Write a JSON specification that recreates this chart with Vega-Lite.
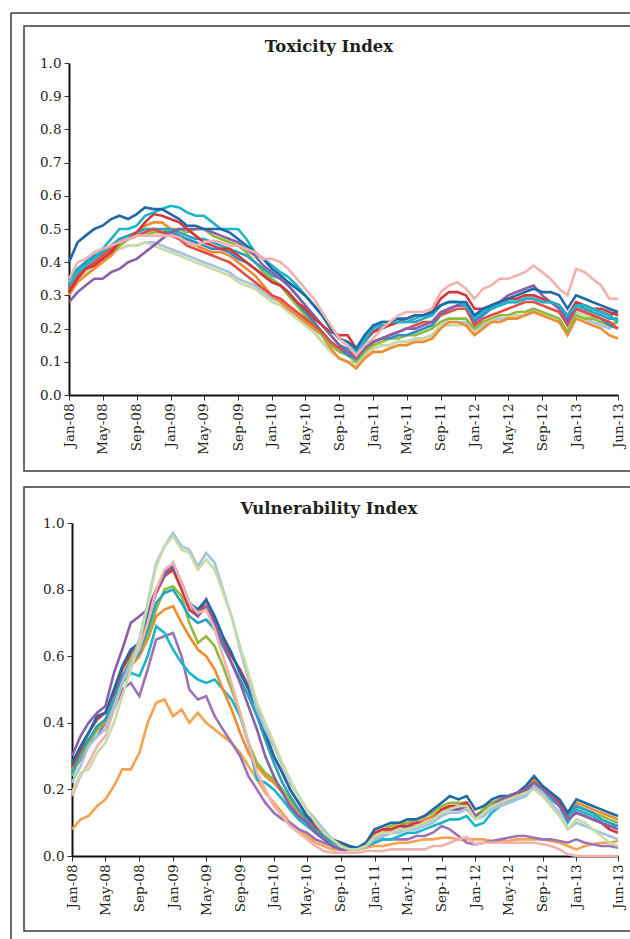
{
"$schema":"https://vega.github.io/schema/vega-lite/v6.json",
"padding":{"left":9,"top":11,"right":0,"bottom":0},
"bounds":"flush",
"spacing":16,
"config":{
"view":{"stroke":"#3a3a3a","strokeWidth":1.5},
"font":"DejaVu Serif",
"axis":{"labelFont":"DejaVu Serif","labelFontSize":13.5,"labelColor":"#231f20","domainColor":"#111111","domainWidth":2,"tickColor":"#333333","tickSize":5,"tickWidth":1,"grid":false,"labelPadding":3,"labelFlush":false,"labelOverlap":false}
},
"datasets":{
"tox":[
{"s":"k","d":"2008-01","v":0.34},{"s":"k","d":"2008-02","v":0.37},{"s":"k","d":"2008-03","v":0.38},{"s":"k","d":"2008-04","v":0.40},{"s":"k","d":"2008-05","v":0.41},{"s":"k","d":"2008-06","v":0.43},{"s":"k","d":"2008-07","v":0.44},{"s":"k","d":"2008-08","v":0.45},{"s":"k","d":"2008-09","v":0.45},{"s":"k","d":"2008-10","v":0.46},{"s":"k","d":"2008-11","v":0.46},{"s":"k","d":"2008-12","v":0.45},
{"s":"k","d":"2009-01","v":0.44},{"s":"k","d":"2009-02","v":0.43},{"s":"k","d":"2009-03","v":0.42},{"s":"k","d":"2009-04","v":0.41},{"s":"k","d":"2009-05","v":0.40},{"s":"k","d":"2009-06","v":0.39},{"s":"k","d":"2009-07","v":0.38},{"s":"k","d":"2009-08","v":0.37},{"s":"k","d":"2009-09","v":0.35},{"s":"k","d":"2009-10","v":0.34},{"s":"k","d":"2009-11","v":0.33},{"s":"k","d":"2009-12","v":0.31},
{"s":"k","d":"2010-01","v":0.29},{"s":"k","d":"2010-02","v":0.28},{"s":"k","d":"2010-03","v":0.26},{"s":"k","d":"2010-04","v":0.24},{"s":"k","d":"2010-05","v":0.21},{"s":"k","d":"2010-06","v":0.19},{"s":"k","d":"2010-07","v":0.16},{"s":"k","d":"2010-08","v":0.13},{"s":"k","d":"2010-09","v":0.11},{"s":"k","d":"2010-10","v":0.10},{"s":"k","d":"2010-11","v":0.10},{"s":"k","d":"2010-12","v":0.12},
{"s":"k","d":"2011-01","v":0.14},{"s":"k","d":"2011-02","v":0.15},{"s":"k","d":"2011-03","v":0.15},{"s":"k","d":"2011-04","v":0.16},{"s":"k","d":"2011-05","v":0.16},{"s":"k","d":"2011-06","v":0.17},{"s":"k","d":"2011-07","v":0.17},{"s":"k","d":"2011-08","v":0.18},{"s":"k","d":"2011-09","v":0.21},{"s":"k","d":"2011-10","v":0.22},{"s":"k","d":"2011-11","v":0.22},{"s":"k","d":"2011-12","v":0.22},
{"s":"k","d":"2012-01","v":0.19},{"s":"k","d":"2012-02","v":0.21},{"s":"k","d":"2012-03","v":0.22},{"s":"k","d":"2012-04","v":0.23},{"s":"k","d":"2012-05","v":0.23},{"s":"k","d":"2012-06","v":0.24},{"s":"k","d":"2012-07","v":0.24},{"s":"k","d":"2012-08","v":0.25},{"s":"k","d":"2012-09","v":0.24},{"s":"k","d":"2012-10","v":0.23},{"s":"k","d":"2012-11","v":0.22},{"s":"k","d":"2012-12","v":0.19},
{"s":"k","d":"2013-01","v":0.24},{"s":"k","d":"2013-02","v":0.23},{"s":"k","d":"2013-03","v":0.22},{"s":"k","d":"2013-04","v":0.21},{"s":"k","d":"2013-05","v":0.20},{"s":"k","d":"2013-06","v":0.23},
{"s":"l","d":"2008-01","v":0.32},{"s":"l","d":"2008-02","v":0.35},{"s":"l","d":"2008-03","v":0.37},{"s":"l","d":"2008-04","v":0.39},{"s":"l","d":"2008-05","v":0.41},{"s":"l","d":"2008-06","v":0.43},{"s":"l","d":"2008-07","v":0.44},{"s":"l","d":"2008-08","v":0.45},{"s":"l","d":"2008-09","v":0.45},{"s":"l","d":"2008-10","v":0.46},{"s":"l","d":"2008-11","v":0.45},{"s":"l","d":"2008-12","v":0.44},
{"s":"l","d":"2009-01","v":0.43},{"s":"l","d":"2009-02","v":0.42},{"s":"l","d":"2009-03","v":0.41},{"s":"l","d":"2009-04","v":0.40},{"s":"l","d":"2009-05","v":0.39},{"s":"l","d":"2009-06","v":0.38},{"s":"l","d":"2009-07","v":0.37},{"s":"l","d":"2009-08","v":0.36},{"s":"l","d":"2009-09","v":0.34},{"s":"l","d":"2009-10","v":0.33},{"s":"l","d":"2009-11","v":0.32},{"s":"l","d":"2009-12","v":0.30},
{"s":"l","d":"2010-01","v":0.28},{"s":"l","d":"2010-02","v":0.27},{"s":"l","d":"2010-03","v":0.25},{"s":"l","d":"2010-04","v":0.23},{"s":"l","d":"2010-05","v":0.21},{"s":"l","d":"2010-06","v":0.19},{"s":"l","d":"2010-07","v":0.16},{"s":"l","d":"2010-08","v":0.13},{"s":"l","d":"2010-09","v":0.11},{"s":"l","d":"2010-10","v":0.10},{"s":"l","d":"2010-11","v":0.09},{"s":"l","d":"2010-12","v":0.12},
{"s":"l","d":"2011-01","v":0.14},{"s":"l","d":"2011-02","v":0.15},{"s":"l","d":"2011-03","v":0.15},{"s":"l","d":"2011-04","v":0.16},{"s":"l","d":"2011-05","v":0.16},{"s":"l","d":"2011-06","v":0.17},{"s":"l","d":"2011-07","v":0.17},{"s":"l","d":"2011-08","v":0.18},{"s":"l","d":"2011-09","v":0.21},{"s":"l","d":"2011-10","v":0.21},{"s":"l","d":"2011-11","v":0.21},{"s":"l","d":"2011-12","v":0.21},
{"s":"l","d":"2012-01","v":0.19},{"s":"l","d":"2012-02","v":0.20},{"s":"l","d":"2012-03","v":0.22},{"s":"l","d":"2012-04","v":0.22},{"s":"l","d":"2012-05","v":0.23},{"s":"l","d":"2012-06","v":0.24},{"s":"l","d":"2012-07","v":0.24},{"s":"l","d":"2012-08","v":0.25},{"s":"l","d":"2012-09","v":0.24},{"s":"l","d":"2012-10","v":0.23},{"s":"l","d":"2012-11","v":0.22},{"s":"l","d":"2012-12","v":0.19},
{"s":"l","d":"2013-01","v":0.25},{"s":"l","d":"2013-02","v":0.24},{"s":"l","d":"2013-03","v":0.23},{"s":"l","d":"2013-04","v":0.22},{"s":"l","d":"2013-05","v":0.21},{"s":"l","d":"2013-06","v":0.23},
{"s":"g","d":"2008-01","v":0.30},{"s":"g","d":"2008-02","v":0.34},{"s":"g","d":"2008-03","v":0.36},{"s":"g","d":"2008-04","v":0.38},{"s":"g","d":"2008-05","v":0.40},{"s":"g","d":"2008-06","v":0.42},{"s":"g","d":"2008-07","v":0.45},{"s":"g","d":"2008-08","v":0.47},{"s":"g","d":"2008-09","v":0.49},{"s":"g","d":"2008-10","v":0.51},{"s":"g","d":"2008-11","v":0.52},{"s":"g","d":"2008-12","v":0.52},
{"s":"g","d":"2009-01","v":0.50},{"s":"g","d":"2009-02","v":0.48},{"s":"g","d":"2009-03","v":0.46},{"s":"g","d":"2009-04","v":0.45},{"s":"g","d":"2009-05","v":0.44},{"s":"g","d":"2009-06","v":0.43},{"s":"g","d":"2009-07","v":0.43},{"s":"g","d":"2009-08","v":0.42},{"s":"g","d":"2009-09","v":0.40},{"s":"g","d":"2009-10","v":0.38},{"s":"g","d":"2009-11","v":0.36},{"s":"g","d":"2009-12","v":0.33},
{"s":"g","d":"2010-01","v":0.30},{"s":"g","d":"2010-02","v":0.28},{"s":"g","d":"2010-03","v":0.26},{"s":"g","d":"2010-04","v":0.24},{"s":"g","d":"2010-05","v":0.22},{"s":"g","d":"2010-06","v":0.20},{"s":"g","d":"2010-07","v":0.18},{"s":"g","d":"2010-08","v":0.14},{"s":"g","d":"2010-09","v":0.11},{"s":"g","d":"2010-10","v":0.10},{"s":"g","d":"2010-11","v":0.08},{"s":"g","d":"2010-12","v":0.11},
{"s":"g","d":"2011-01","v":0.13},{"s":"g","d":"2011-02","v":0.13},{"s":"g","d":"2011-03","v":0.14},{"s":"g","d":"2011-04","v":0.15},{"s":"g","d":"2011-05","v":0.15},{"s":"g","d":"2011-06","v":0.16},{"s":"g","d":"2011-07","v":0.16},{"s":"g","d":"2011-08","v":0.17},{"s":"g","d":"2011-09","v":0.20},{"s":"g","d":"2011-10","v":0.22},{"s":"g","d":"2011-11","v":0.22},{"s":"g","d":"2011-12","v":0.21},
{"s":"g","d":"2012-01","v":0.18},{"s":"g","d":"2012-02","v":0.20},{"s":"g","d":"2012-03","v":0.22},{"s":"g","d":"2012-04","v":0.22},{"s":"g","d":"2012-05","v":0.23},{"s":"g","d":"2012-06","v":0.23},{"s":"g","d":"2012-07","v":0.24},{"s":"g","d":"2012-08","v":0.25},{"s":"g","d":"2012-09","v":0.24},{"s":"g","d":"2012-10","v":0.23},{"s":"g","d":"2012-11","v":0.22},{"s":"g","d":"2012-12","v":0.18},
{"s":"g","d":"2013-01","v":0.23},{"s":"g","d":"2013-02","v":0.22},{"s":"g","d":"2013-03","v":0.21},{"s":"g","d":"2013-04","v":0.20},{"s":"g","d":"2013-05","v":0.18},{"s":"g","d":"2013-06","v":0.17},
{"s":"i","d":"2008-01","v":0.33},{"s":"i","d":"2008-02","v":0.36},{"s":"i","d":"2008-03","v":0.38},{"s":"i","d":"2008-04","v":0.40},{"s":"i","d":"2008-05","v":0.41},{"s":"i","d":"2008-06","v":0.43},{"s":"i","d":"2008-07","v":0.45},{"s":"i","d":"2008-08","v":0.47},{"s":"i","d":"2008-09","v":0.48},{"s":"i","d":"2008-10","v":0.48},{"s":"i","d":"2008-11","v":0.49},{"s":"i","d":"2008-12","v":0.49},
{"s":"i","d":"2009-01","v":0.50},{"s":"i","d":"2009-02","v":0.50},{"s":"i","d":"2009-03","v":0.49},{"s":"i","d":"2009-04","v":0.50},{"s":"i","d":"2009-05","v":0.50},{"s":"i","d":"2009-06","v":0.48},{"s":"i","d":"2009-07","v":0.47},{"s":"i","d":"2009-08","v":0.46},{"s":"i","d":"2009-09","v":0.45},{"s":"i","d":"2009-10","v":0.43},{"s":"i","d":"2009-11","v":0.40},{"s":"i","d":"2009-12","v":0.37},
{"s":"i","d":"2010-01","v":0.35},{"s":"i","d":"2010-02","v":0.33},{"s":"i","d":"2010-03","v":0.30},{"s":"i","d":"2010-04","v":0.27},{"s":"i","d":"2010-05","v":0.24},{"s":"i","d":"2010-06","v":0.21},{"s":"i","d":"2010-07","v":0.18},{"s":"i","d":"2010-08","v":0.15},{"s":"i","d":"2010-09","v":0.13},{"s":"i","d":"2010-10","v":0.12},{"s":"i","d":"2010-11","v":0.10},{"s":"i","d":"2010-12","v":0.13},
{"s":"i","d":"2011-01","v":0.15},{"s":"i","d":"2011-02","v":0.16},{"s":"i","d":"2011-03","v":0.17},{"s":"i","d":"2011-04","v":0.17},{"s":"i","d":"2011-05","v":0.18},{"s":"i","d":"2011-06","v":0.18},{"s":"i","d":"2011-07","v":0.19},{"s":"i","d":"2011-08","v":0.20},{"s":"i","d":"2011-09","v":0.22},{"s":"i","d":"2011-10","v":0.23},{"s":"i","d":"2011-11","v":0.23},{"s":"i","d":"2011-12","v":0.23},
{"s":"i","d":"2012-01","v":0.20},{"s":"i","d":"2012-02","v":0.22},{"s":"i","d":"2012-03","v":0.23},{"s":"i","d":"2012-04","v":0.24},{"s":"i","d":"2012-05","v":0.24},{"s":"i","d":"2012-06","v":0.25},{"s":"i","d":"2012-07","v":0.25},{"s":"i","d":"2012-08","v":0.26},{"s":"i","d":"2012-09","v":0.25},{"s":"i","d":"2012-10","v":0.24},{"s":"i","d":"2012-11","v":0.23},{"s":"i","d":"2012-12","v":0.19},
{"s":"i","d":"2013-01","v":0.24},{"s":"i","d":"2013-02","v":0.23},{"s":"i","d":"2013-03","v":0.23},{"s":"i","d":"2013-04","v":0.22},{"s":"i","d":"2013-05","v":0.21},{"s":"i","d":"2013-06","v":0.22},
{"s":"b","d":"2008-01","v":0.35},{"s":"b","d":"2008-02","v":0.38},{"s":"b","d":"2008-03","v":0.40},{"s":"b","d":"2008-04","v":0.42},{"s":"b","d":"2008-05","v":0.43},{"s":"b","d":"2008-06","v":0.45},{"s":"b","d":"2008-07","v":0.46},{"s":"b","d":"2008-08","v":0.47},{"s":"b","d":"2008-09","v":0.48},{"s":"b","d":"2008-10","v":0.49},{"s":"b","d":"2008-11","v":0.50},{"s":"b","d":"2008-12","v":0.49},
{"s":"b","d":"2009-01","v":0.49},{"s":"b","d":"2009-02","v":0.48},{"s":"b","d":"2009-03","v":0.47},{"s":"b","d":"2009-04","v":0.46},{"s":"b","d":"2009-05","v":0.45},{"s":"b","d":"2009-06","v":0.44},{"s":"b","d":"2009-07","v":0.44},{"s":"b","d":"2009-08","v":0.43},{"s":"b","d":"2009-09","v":0.41},{"s":"b","d":"2009-10","v":0.40},{"s":"b","d":"2009-11","v":0.38},{"s":"b","d":"2009-12","v":0.36},
{"s":"b","d":"2010-01","v":0.34},{"s":"b","d":"2010-02","v":0.33},{"s":"b","d":"2010-03","v":0.31},{"s":"b","d":"2010-04","v":0.28},{"s":"b","d":"2010-05","v":0.25},{"s":"b","d":"2010-06","v":0.22},{"s":"b","d":"2010-07","v":0.19},{"s":"b","d":"2010-08","v":0.16},{"s":"b","d":"2010-09","v":0.14},{"s":"b","d":"2010-10","v":0.12},{"s":"b","d":"2010-11","v":0.11},{"s":"b","d":"2010-12","v":0.14},
{"s":"b","d":"2011-01","v":0.16},{"s":"b","d":"2011-02","v":0.17},{"s":"b","d":"2011-03","v":0.17},{"s":"b","d":"2011-04","v":0.18},{"s":"b","d":"2011-05","v":0.18},{"s":"b","d":"2011-06","v":0.19},{"s":"b","d":"2011-07","v":0.20},{"s":"b","d":"2011-08","v":0.21},{"s":"b","d":"2011-09","v":0.24},{"s":"b","d":"2011-10","v":0.26},{"s":"b","d":"2011-11","v":0.27},{"s":"b","d":"2011-12","v":0.27},
{"s":"b","d":"2012-01","v":0.22},{"s":"b","d":"2012-02","v":0.24},{"s":"b","d":"2012-03","v":0.26},{"s":"b","d":"2012-04","v":0.27},{"s":"b","d":"2012-05","v":0.28},{"s":"b","d":"2012-06","v":0.28},{"s":"b","d":"2012-07","v":0.29},{"s":"b","d":"2012-08","v":0.29},{"s":"b","d":"2012-09","v":0.28},{"s":"b","d":"2012-10","v":0.28},{"s":"b","d":"2012-11","v":0.27},{"s":"b","d":"2012-12","v":0.23},
{"s":"b","d":"2013-01","v":0.26},{"s":"b","d":"2013-02","v":0.25},{"s":"b","d":"2013-03","v":0.24},{"s":"b","d":"2013-04","v":0.23},{"s":"b","d":"2013-05","v":0.21},{"s":"b","d":"2013-06","v":0.20},
{"s":"d","d":"2008-01","v":0.35},{"s":"d","d":"2008-02","v":0.38},{"s":"d","d":"2008-03","v":0.40},{"s":"d","d":"2008-04","v":0.41},{"s":"d","d":"2008-05","v":0.43},{"s":"d","d":"2008-06","v":0.45},{"s":"d","d":"2008-07","v":0.47},{"s":"d","d":"2008-08","v":0.48},{"s":"d","d":"2008-09","v":0.49},{"s":"d","d":"2008-10","v":0.50},{"s":"d","d":"2008-11","v":0.50},{"s":"d","d":"2008-12","v":0.50},
{"s":"d","d":"2009-01","v":0.50},{"s":"d","d":"2009-02","v":0.49},{"s":"d","d":"2009-03","v":0.48},{"s":"d","d":"2009-04","v":0.47},{"s":"d","d":"2009-05","v":0.47},{"s":"d","d":"2009-06","v":0.46},{"s":"d","d":"2009-07","v":0.45},{"s":"d","d":"2009-08","v":0.44},{"s":"d","d":"2009-09","v":0.43},{"s":"d","d":"2009-10","v":0.42},{"s":"d","d":"2009-11","v":0.40},{"s":"d","d":"2009-12","v":0.38},
{"s":"d","d":"2010-01","v":0.36},{"s":"d","d":"2010-02","v":0.35},{"s":"d","d":"2010-03","v":0.33},{"s":"d","d":"2010-04","v":0.30},{"s":"d","d":"2010-05","v":0.27},{"s":"d","d":"2010-06","v":0.24},{"s":"d","d":"2010-07","v":0.21},{"s":"d","d":"2010-08","v":0.18},{"s":"d","d":"2010-09","v":0.15},{"s":"d","d":"2010-10","v":0.14},{"s":"d","d":"2010-11","v":0.12},{"s":"d","d":"2010-12","v":0.16},
{"s":"d","d":"2011-01","v":0.19},{"s":"d","d":"2011-02","v":0.21},{"s":"d","d":"2011-03","v":0.21},{"s":"d","d":"2011-04","v":0.22},{"s":"d","d":"2011-05","v":0.22},{"s":"d","d":"2011-06","v":0.22},{"s":"d","d":"2011-07","v":0.23},{"s":"d","d":"2011-08","v":0.24},{"s":"d","d":"2011-09","v":0.27},{"s":"d","d":"2011-10","v":0.28},{"s":"d","d":"2011-11","v":0.28},{"s":"d","d":"2011-12","v":0.27},
{"s":"d","d":"2012-01","v":0.23},{"s":"d","d":"2012-02","v":0.25},{"s":"d","d":"2012-03","v":0.26},{"s":"d","d":"2012-04","v":0.27},{"s":"d","d":"2012-05","v":0.28},{"s":"d","d":"2012-06","v":0.28},{"s":"d","d":"2012-07","v":0.29},{"s":"d","d":"2012-08","v":0.29},{"s":"d","d":"2012-09","v":0.28},{"s":"d","d":"2012-10","v":0.28},{"s":"d","d":"2012-11","v":0.27},{"s":"d","d":"2012-12","v":0.23},
{"s":"d","d":"2013-01","v":0.27},{"s":"d","d":"2013-02","v":0.26},{"s":"d","d":"2013-03","v":0.25},{"s":"d","d":"2013-04","v":0.24},{"s":"d","d":"2013-05","v":0.23},{"s":"d","d":"2013-06","v":0.23},
{"s":"f","d":"2008-01","v":0.32},{"s":"f","d":"2008-02","v":0.36},{"s":"f","d":"2008-03","v":0.38},{"s":"f","d":"2008-04","v":0.40},{"s":"f","d":"2008-05","v":0.42},{"s":"f","d":"2008-06","v":0.44},{"s":"f","d":"2008-07","v":0.46},{"s":"f","d":"2008-08","v":0.47},{"s":"f","d":"2008-09","v":0.48},{"s":"f","d":"2008-10","v":0.49},{"s":"f","d":"2008-11","v":0.50},{"s":"f","d":"2008-12","v":0.49},
{"s":"f","d":"2009-01","v":0.48},{"s":"f","d":"2009-02","v":0.47},{"s":"f","d":"2009-03","v":0.45},{"s":"f","d":"2009-04","v":0.44},{"s":"f","d":"2009-05","v":0.43},{"s":"f","d":"2009-06","v":0.42},{"s":"f","d":"2009-07","v":0.41},{"s":"f","d":"2009-08","v":0.40},{"s":"f","d":"2009-09","v":0.38},{"s":"f","d":"2009-10","v":0.36},{"s":"f","d":"2009-11","v":0.34},{"s":"f","d":"2009-12","v":0.32},
{"s":"f","d":"2010-01","v":0.30},{"s":"f","d":"2010-02","v":0.29},{"s":"f","d":"2010-03","v":0.27},{"s":"f","d":"2010-04","v":0.25},{"s":"f","d":"2010-05","v":0.23},{"s":"f","d":"2010-06","v":0.21},{"s":"f","d":"2010-07","v":0.19},{"s":"f","d":"2010-08","v":0.16},{"s":"f","d":"2010-09","v":0.14},{"s":"f","d":"2010-10","v":0.13},{"s":"f","d":"2010-11","v":0.12},{"s":"f","d":"2010-12","v":0.14},
{"s":"f","d":"2011-01","v":0.16},{"s":"f","d":"2011-02","v":0.17},{"s":"f","d":"2011-03","v":0.18},{"s":"f","d":"2011-04","v":0.19},{"s":"f","d":"2011-05","v":0.20},{"s":"f","d":"2011-06","v":0.21},{"s":"f","d":"2011-07","v":0.22},{"s":"f","d":"2011-08","v":0.22},{"s":"f","d":"2011-09","v":0.24},{"s":"f","d":"2011-10","v":0.25},{"s":"f","d":"2011-11","v":0.26},{"s":"f","d":"2011-12","v":0.26},
{"s":"f","d":"2012-01","v":0.21},{"s":"f","d":"2012-02","v":0.23},{"s":"f","d":"2012-03","v":0.24},{"s":"f","d":"2012-04","v":0.25},{"s":"f","d":"2012-05","v":0.26},{"s":"f","d":"2012-06","v":0.27},{"s":"f","d":"2012-07","v":0.28},{"s":"f","d":"2012-08","v":0.28},{"s":"f","d":"2012-09","v":0.27},{"s":"f","d":"2012-10","v":0.26},{"s":"f","d":"2012-11","v":0.25},{"s":"f","d":"2012-12","v":0.21},
{"s":"f","d":"2013-01","v":0.26},{"s":"f","d":"2013-02","v":0.25},{"s":"f","d":"2013-03","v":0.24},{"s":"f","d":"2013-04","v":0.23},{"s":"f","d":"2013-05","v":0.22},{"s":"f","d":"2013-06","v":0.20},
{"s":"h","d":"2008-01","v":0.28},{"s":"h","d":"2008-02","v":0.31},{"s":"h","d":"2008-03","v":0.33},{"s":"h","d":"2008-04","v":0.35},{"s":"h","d":"2008-05","v":0.35},{"s":"h","d":"2008-06","v":0.37},{"s":"h","d":"2008-07","v":0.38},{"s":"h","d":"2008-08","v":0.40},{"s":"h","d":"2008-09","v":0.41},{"s":"h","d":"2008-10","v":0.43},{"s":"h","d":"2008-11","v":0.45},{"s":"h","d":"2008-12","v":0.47},
{"s":"h","d":"2009-01","v":0.49},{"s":"h","d":"2009-02","v":0.50},{"s":"h","d":"2009-03","v":0.50},{"s":"h","d":"2009-04","v":0.50},{"s":"h","d":"2009-05","v":0.50},{"s":"h","d":"2009-06","v":0.49},{"s":"h","d":"2009-07","v":0.48},{"s":"h","d":"2009-08","v":0.47},{"s":"h","d":"2009-09","v":0.46},{"s":"h","d":"2009-10","v":0.44},{"s":"h","d":"2009-11","v":0.42},{"s":"h","d":"2009-12","v":0.39},
{"s":"h","d":"2010-01","v":0.37},{"s":"h","d":"2010-02","v":0.35},{"s":"h","d":"2010-03","v":0.33},{"s":"h","d":"2010-04","v":0.30},{"s":"h","d":"2010-05","v":0.27},{"s":"h","d":"2010-06","v":0.24},{"s":"h","d":"2010-07","v":0.21},{"s":"h","d":"2010-08","v":0.18},{"s":"h","d":"2010-09","v":0.15},{"s":"h","d":"2010-10","v":0.13},{"s":"h","d":"2010-11","v":0.11},{"s":"h","d":"2010-12","v":0.14},
{"s":"h","d":"2011-01","v":0.16},{"s":"h","d":"2011-02","v":0.17},{"s":"h","d":"2011-03","v":0.18},{"s":"h","d":"2011-04","v":0.19},{"s":"h","d":"2011-05","v":0.20},{"s":"h","d":"2011-06","v":0.20},{"s":"h","d":"2011-07","v":0.21},{"s":"h","d":"2011-08","v":0.22},{"s":"h","d":"2011-09","v":0.25},{"s":"h","d":"2011-10","v":0.26},{"s":"h","d":"2011-11","v":0.27},{"s":"h","d":"2011-12","v":0.27},
{"s":"h","d":"2012-01","v":0.22},{"s":"h","d":"2012-02","v":0.25},{"s":"h","d":"2012-03","v":0.27},{"s":"h","d":"2012-04","v":0.28},{"s":"h","d":"2012-05","v":0.30},{"s":"h","d":"2012-06","v":0.31},{"s":"h","d":"2012-07","v":0.32},{"s":"h","d":"2012-08","v":0.33},{"s":"h","d":"2012-09","v":0.30},{"s":"h","d":"2012-10","v":0.28},{"s":"h","d":"2012-11","v":0.26},{"s":"h","d":"2012-12","v":0.22},
{"s":"h","d":"2013-01","v":0.27},{"s":"h","d":"2013-02","v":0.27},{"s":"h","d":"2013-03","v":0.26},{"s":"h","d":"2013-04","v":0.25},{"s":"h","d":"2013-05","v":0.24},{"s":"h","d":"2013-06","v":0.25},
{"s":"e","d":"2008-01","v":0.31},{"s":"e","d":"2008-02","v":0.35},{"s":"e","d":"2008-03","v":0.38},{"s":"e","d":"2008-04","v":0.39},{"s":"e","d":"2008-05","v":0.41},{"s":"e","d":"2008-06","v":0.43},{"s":"e","d":"2008-07","v":0.46},{"s":"e","d":"2008-08","v":0.47},{"s":"e","d":"2008-09","v":0.49},{"s":"e","d":"2008-10","v":0.52},{"s":"e","d":"2008-11","v":0.545},{"s":"e","d":"2008-12","v":0.54},
{"s":"e","d":"2009-01","v":0.53},{"s":"e","d":"2009-02","v":0.52},{"s":"e","d":"2009-03","v":0.50},{"s":"e","d":"2009-04","v":0.48},{"s":"e","d":"2009-05","v":0.46},{"s":"e","d":"2009-06","v":0.45},{"s":"e","d":"2009-07","v":0.44},{"s":"e","d":"2009-08","v":0.44},{"s":"e","d":"2009-09","v":0.42},{"s":"e","d":"2009-10","v":0.40},{"s":"e","d":"2009-11","v":0.38},{"s":"e","d":"2009-12","v":0.36},
{"s":"e","d":"2010-01","v":0.34},{"s":"e","d":"2010-02","v":0.33},{"s":"e","d":"2010-03","v":0.31},{"s":"e","d":"2010-04","v":0.28},{"s":"e","d":"2010-05","v":0.26},{"s":"e","d":"2010-06","v":0.23},{"s":"e","d":"2010-07","v":0.21},{"s":"e","d":"2010-08","v":0.19},{"s":"e","d":"2010-09","v":0.18},{"s":"e","d":"2010-10","v":0.18},{"s":"e","d":"2010-11","v":0.14},{"s":"e","d":"2010-12","v":0.17},
{"s":"e","d":"2011-01","v":0.19},{"s":"e","d":"2011-02","v":0.20},{"s":"e","d":"2011-03","v":0.21},{"s":"e","d":"2011-04","v":0.22},{"s":"e","d":"2011-05","v":0.23},{"s":"e","d":"2011-06","v":0.24},{"s":"e","d":"2011-07","v":0.24},{"s":"e","d":"2011-08","v":0.25},{"s":"e","d":"2011-09","v":0.29},{"s":"e","d":"2011-10","v":0.31},{"s":"e","d":"2011-11","v":0.31},{"s":"e","d":"2011-12","v":0.30},
{"s":"e","d":"2012-01","v":0.26},{"s":"e","d":"2012-02","v":0.26},{"s":"e","d":"2012-03","v":0.27},{"s":"e","d":"2012-04","v":0.28},{"s":"e","d":"2012-05","v":0.29},{"s":"e","d":"2012-06","v":0.29},{"s":"e","d":"2012-07","v":0.30},{"s":"e","d":"2012-08","v":0.30},{"s":"e","d":"2012-09","v":0.29},{"s":"e","d":"2012-10","v":0.28},{"s":"e","d":"2012-11","v":0.27},{"s":"e","d":"2012-12","v":0.24},
{"s":"e","d":"2013-01","v":0.28},{"s":"e","d":"2013-02","v":0.27},{"s":"e","d":"2013-03","v":0.26},{"s":"e","d":"2013-04","v":0.26},{"s":"e","d":"2013-05","v":0.25},{"s":"e","d":"2013-06","v":0.24},
{"s":"c","d":"2008-01","v":0.33},{"s":"c","d":"2008-02","v":0.37},{"s":"c","d":"2008-03","v":0.39},{"s":"c","d":"2008-04","v":0.41},{"s":"c","d":"2008-05","v":0.44},{"s":"c","d":"2008-06","v":0.47},{"s":"c","d":"2008-07","v":0.50},{"s":"c","d":"2008-08","v":0.50},{"s":"c","d":"2008-09","v":0.51},{"s":"c","d":"2008-10","v":0.54},{"s":"c","d":"2008-11","v":0.55},{"s":"c","d":"2008-12","v":0.56},
{"s":"c","d":"2009-01","v":0.57},{"s":"c","d":"2009-02","v":0.565},{"s":"c","d":"2009-03","v":0.55},{"s":"c","d":"2009-04","v":0.54},{"s":"c","d":"2009-05","v":0.54},{"s":"c","d":"2009-06","v":0.52},{"s":"c","d":"2009-07","v":0.50},{"s":"c","d":"2009-08","v":0.50},{"s":"c","d":"2009-09","v":0.50},{"s":"c","d":"2009-10","v":0.47},{"s":"c","d":"2009-11","v":0.43},{"s":"c","d":"2009-12","v":0.41},
{"s":"c","d":"2010-01","v":0.39},{"s":"c","d":"2010-02","v":0.37},{"s":"c","d":"2010-03","v":0.355},{"s":"c","d":"2010-04","v":0.33},{"s":"c","d":"2010-05","v":0.30},{"s":"c","d":"2010-06","v":0.27},{"s":"c","d":"2010-07","v":0.24},{"s":"c","d":"2010-08","v":0.20},{"s":"c","d":"2010-09","v":0.17},{"s":"c","d":"2010-10","v":0.15},{"s":"c","d":"2010-11","v":0.13},{"s":"c","d":"2010-12","v":0.17},
{"s":"c","d":"2011-01","v":0.20},{"s":"c","d":"2011-02","v":0.22},{"s":"c","d":"2011-03","v":0.22},{"s":"c","d":"2011-04","v":0.22},{"s":"c","d":"2011-05","v":0.22},{"s":"c","d":"2011-06","v":0.23},{"s":"c","d":"2011-07","v":0.24},{"s":"c","d":"2011-08","v":0.24},{"s":"c","d":"2011-09","v":0.27},{"s":"c","d":"2011-10","v":0.28},{"s":"c","d":"2011-11","v":0.28},{"s":"c","d":"2011-12","v":0.27},
{"s":"c","d":"2012-01","v":0.23},{"s":"c","d":"2012-02","v":0.25},{"s":"c","d":"2012-03","v":0.27},{"s":"c","d":"2012-04","v":0.27},{"s":"c","d":"2012-05","v":0.28},{"s":"c","d":"2012-06","v":0.28},{"s":"c","d":"2012-07","v":0.29},{"s":"c","d":"2012-08","v":0.29},{"s":"c","d":"2012-09","v":0.28},{"s":"c","d":"2012-10","v":0.28},{"s":"c","d":"2012-11","v":0.27},{"s":"c","d":"2012-12","v":0.24},
{"s":"c","d":"2013-01","v":0.27},{"s":"c","d":"2013-02","v":0.27},{"s":"c","d":"2013-03","v":0.26},{"s":"c","d":"2013-04","v":0.25},{"s":"c","d":"2013-05","v":0.24},{"s":"c","d":"2013-06","v":0.22},
{"s":"a","d":"2008-01","v":0.40},{"s":"a","d":"2008-02","v":0.46},{"s":"a","d":"2008-03","v":0.48},{"s":"a","d":"2008-04","v":0.50},{"s":"a","d":"2008-05","v":0.51},{"s":"a","d":"2008-06","v":0.53},{"s":"a","d":"2008-07","v":0.54},{"s":"a","d":"2008-08","v":0.53},{"s":"a","d":"2008-09","v":0.545},{"s":"a","d":"2008-10","v":0.565},{"s":"a","d":"2008-11","v":0.56},{"s":"a","d":"2008-12","v":0.56},
{"s":"a","d":"2009-01","v":0.545},{"s":"a","d":"2009-02","v":0.53},{"s":"a","d":"2009-03","v":0.51},{"s":"a","d":"2009-04","v":0.51},{"s":"a","d":"2009-05","v":0.50},{"s":"a","d":"2009-06","v":0.50},{"s":"a","d":"2009-07","v":0.50},{"s":"a","d":"2009-08","v":0.49},{"s":"a","d":"2009-09","v":0.47},{"s":"a","d":"2009-10","v":0.45},{"s":"a","d":"2009-11","v":0.43},{"s":"a","d":"2009-12","v":0.41},
{"s":"a","d":"2010-01","v":0.38},{"s":"a","d":"2010-02","v":0.36},{"s":"a","d":"2010-03","v":0.34},{"s":"a","d":"2010-04","v":0.32},{"s":"a","d":"2010-05","v":0.30},{"s":"a","d":"2010-06","v":0.27},{"s":"a","d":"2010-07","v":0.24},{"s":"a","d":"2010-08","v":0.20},{"s":"a","d":"2010-09","v":0.17},{"s":"a","d":"2010-10","v":0.16},{"s":"a","d":"2010-11","v":0.14},{"s":"a","d":"2010-12","v":0.18},
{"s":"a","d":"2011-01","v":0.21},{"s":"a","d":"2011-02","v":0.22},{"s":"a","d":"2011-03","v":0.22},{"s":"a","d":"2011-04","v":0.23},{"s":"a","d":"2011-05","v":0.23},{"s":"a","d":"2011-06","v":0.24},{"s":"a","d":"2011-07","v":0.24},{"s":"a","d":"2011-08","v":0.25},{"s":"a","d":"2011-09","v":0.27},{"s":"a","d":"2011-10","v":0.28},{"s":"a","d":"2011-11","v":0.28},{"s":"a","d":"2011-12","v":0.28},
{"s":"a","d":"2012-01","v":0.24},{"s":"a","d":"2012-02","v":0.26},{"s":"a","d":"2012-03","v":0.27},{"s":"a","d":"2012-04","v":0.28},{"s":"a","d":"2012-05","v":0.29},{"s":"a","d":"2012-06","v":0.30},{"s":"a","d":"2012-07","v":0.31},{"s":"a","d":"2012-08","v":0.32},{"s":"a","d":"2012-09","v":0.31},{"s":"a","d":"2012-10","v":0.31},{"s":"a","d":"2012-11","v":0.30},{"s":"a","d":"2012-12","v":0.26},
{"s":"a","d":"2013-01","v":0.30},{"s":"a","d":"2013-02","v":0.29},{"s":"a","d":"2013-03","v":0.28},{"s":"a","d":"2013-04","v":0.27},{"s":"a","d":"2013-05","v":0.26},{"s":"a","d":"2013-06","v":0.25},
{"s":"j","d":"2008-01","v":0.35},{"s":"j","d":"2008-02","v":0.40},{"s":"j","d":"2008-03","v":0.41},{"s":"j","d":"2008-04","v":0.43},{"s":"j","d":"2008-05","v":0.44},{"s":"j","d":"2008-06","v":0.45},{"s":"j","d":"2008-07","v":0.46},{"s":"j","d":"2008-08","v":0.47},{"s":"j","d":"2008-09","v":0.48},{"s":"j","d":"2008-10","v":0.48},{"s":"j","d":"2008-11","v":0.48},{"s":"j","d":"2008-12","v":0.48},
{"s":"j","d":"2009-01","v":0.48},{"s":"j","d":"2009-02","v":0.475},{"s":"j","d":"2009-03","v":0.46},{"s":"j","d":"2009-04","v":0.45},{"s":"j","d":"2009-05","v":0.46},{"s":"j","d":"2009-06","v":0.465},{"s":"j","d":"2009-07","v":0.46},{"s":"j","d":"2009-08","v":0.45},{"s":"j","d":"2009-09","v":0.45},{"s":"j","d":"2009-10","v":0.44},{"s":"j","d":"2009-11","v":0.43},{"s":"j","d":"2009-12","v":0.41},
{"s":"j","d":"2010-01","v":0.41},{"s":"j","d":"2010-02","v":0.40},{"s":"j","d":"2010-03","v":0.38},{"s":"j","d":"2010-04","v":0.35},{"s":"j","d":"2010-05","v":0.32},{"s":"j","d":"2010-06","v":0.29},{"s":"j","d":"2010-07","v":0.25},{"s":"j","d":"2010-08","v":0.21},{"s":"j","d":"2010-09","v":0.17},{"s":"j","d":"2010-10","v":0.15},{"s":"j","d":"2010-11","v":0.12},{"s":"j","d":"2010-12","v":0.15},
{"s":"j","d":"2011-01","v":0.17},{"s":"j","d":"2011-02","v":0.20},{"s":"j","d":"2011-03","v":0.22},{"s":"j","d":"2011-04","v":0.24},{"s":"j","d":"2011-05","v":0.25},{"s":"j","d":"2011-06","v":0.25},{"s":"j","d":"2011-07","v":0.25},{"s":"j","d":"2011-08","v":0.26},{"s":"j","d":"2011-09","v":0.31},{"s":"j","d":"2011-10","v":0.33},{"s":"j","d":"2011-11","v":0.34},{"s":"j","d":"2011-12","v":0.32},
{"s":"j","d":"2012-01","v":0.29},{"s":"j","d":"2012-02","v":0.32},{"s":"j","d":"2012-03","v":0.33},{"s":"j","d":"2012-04","v":0.35},{"s":"j","d":"2012-05","v":0.35},{"s":"j","d":"2012-06","v":0.36},{"s":"j","d":"2012-07","v":0.37},{"s":"j","d":"2012-08","v":0.39},{"s":"j","d":"2012-09","v":0.37},{"s":"j","d":"2012-10","v":0.35},{"s":"j","d":"2012-11","v":0.32},{"s":"j","d":"2012-12","v":0.30},
{"s":"j","d":"2013-01","v":0.38},{"s":"j","d":"2013-02","v":0.37},{"s":"j","d":"2013-03","v":0.35},{"s":"j","d":"2013-04","v":0.33},{"s":"j","d":"2013-05","v":0.29},{"s":"j","d":"2013-06","v":0.29}
],
"vul":[
{"s":"m","d":"2008-01","v":0.08},{"s":"m","d":"2008-02","v":0.11},{"s":"m","d":"2008-03","v":0.12},{"s":"m","d":"2008-04","v":0.15},{"s":"m","d":"2008-05","v":0.17},{"s":"m","d":"2008-06","v":0.21},{"s":"m","d":"2008-07","v":0.26},{"s":"m","d":"2008-08","v":0.26},{"s":"m","d":"2008-09","v":0.31},{"s":"m","d":"2008-10","v":0.40},{"s":"m","d":"2008-11","v":0.46},{"s":"m","d":"2008-12","v":0.47},
{"s":"m","d":"2009-01","v":0.42},{"s":"m","d":"2009-02","v":0.44},{"s":"m","d":"2009-03","v":0.40},{"s":"m","d":"2009-04","v":0.43},{"s":"m","d":"2009-05","v":0.40},{"s":"m","d":"2009-06","v":0.38},{"s":"m","d":"2009-07","v":0.36},{"s":"m","d":"2009-08","v":0.34},{"s":"m","d":"2009-09","v":0.31},{"s":"m","d":"2009-10","v":0.27},{"s":"m","d":"2009-11","v":0.23},{"s":"m","d":"2009-12","v":0.19},
{"s":"m","d":"2010-01","v":0.16},{"s":"m","d":"2010-02","v":0.13},{"s":"m","d":"2010-03","v":0.10},{"s":"m","d":"2010-04","v":0.08},{"s":"m","d":"2010-05","v":0.06},{"s":"m","d":"2010-06","v":0.04},{"s":"m","d":"2010-07","v":0.03},{"s":"m","d":"2010-08","v":0.02},{"s":"m","d":"2010-09","v":0.02},{"s":"m","d":"2010-10","v":0.02},{"s":"m","d":"2010-11","v":0.02},{"s":"m","d":"2010-12","v":0.025},
{"s":"m","d":"2011-01","v":0.03},{"s":"m","d":"2011-02","v":0.03},{"s":"m","d":"2011-03","v":0.035},{"s":"m","d":"2011-04","v":0.04},{"s":"m","d":"2011-05","v":0.04},{"s":"m","d":"2011-06","v":0.045},{"s":"m","d":"2011-07","v":0.05},{"s":"m","d":"2011-08","v":0.05},{"s":"m","d":"2011-09","v":0.055},{"s":"m","d":"2011-10","v":0.055},{"s":"m","d":"2011-11","v":0.05},{"s":"m","d":"2011-12","v":0.05},
{"s":"m","d":"2012-01","v":0.05},{"s":"m","d":"2012-02","v":0.05},{"s":"m","d":"2012-03","v":0.045},{"s":"m","d":"2012-04","v":0.045},{"s":"m","d":"2012-05","v":0.045},{"s":"m","d":"2012-06","v":0.05},{"s":"m","d":"2012-07","v":0.05},{"s":"m","d":"2012-08","v":0.05},{"s":"m","d":"2012-09","v":0.05},{"s":"m","d":"2012-10","v":0.045},{"s":"m","d":"2012-11","v":0.04},{"s":"m","d":"2012-12","v":0.03},
{"s":"m","d":"2013-01","v":0.02},{"s":"m","d":"2013-02","v":0.03},{"s":"m","d":"2013-03","v":0.035},{"s":"m","d":"2013-04","v":0.04},{"s":"m","d":"2013-05","v":0.04},{"s":"m","d":"2013-06","v":0.045},
{"s":"n","d":"2008-01","v":0.25},{"s":"n","d":"2008-02","v":0.29},{"s":"n","d":"2008-03","v":0.33},{"s":"n","d":"2008-04","v":0.36},{"s":"n","d":"2008-05","v":0.40},{"s":"n","d":"2008-06","v":0.44},{"s":"n","d":"2008-07","v":0.50},{"s":"n","d":"2008-08","v":0.52},{"s":"n","d":"2008-09","v":0.48},{"s":"n","d":"2008-10","v":0.56},{"s":"n","d":"2008-11","v":0.65},{"s":"n","d":"2008-12","v":0.66},
{"s":"n","d":"2009-01","v":0.67},{"s":"n","d":"2009-02","v":0.60},{"s":"n","d":"2009-03","v":0.50},{"s":"n","d":"2009-04","v":0.47},{"s":"n","d":"2009-05","v":0.48},{"s":"n","d":"2009-06","v":0.42},{"s":"n","d":"2009-07","v":0.38},{"s":"n","d":"2009-08","v":0.34},{"s":"n","d":"2009-09","v":0.30},{"s":"n","d":"2009-10","v":0.24},{"s":"n","d":"2009-11","v":0.20},{"s":"n","d":"2009-12","v":0.16},
{"s":"n","d":"2010-01","v":0.13},{"s":"n","d":"2010-02","v":0.11},{"s":"n","d":"2010-03","v":0.10},{"s":"n","d":"2010-04","v":0.08},{"s":"n","d":"2010-05","v":0.07},{"s":"n","d":"2010-06","v":0.05},{"s":"n","d":"2010-07","v":0.04},{"s":"n","d":"2010-08","v":0.03},{"s":"n","d":"2010-09","v":0.02},{"s":"n","d":"2010-10","v":0.02},{"s":"n","d":"2010-11","v":0.02},{"s":"n","d":"2010-12","v":0.03},
{"s":"n","d":"2011-01","v":0.04},{"s":"n","d":"2011-02","v":0.05},{"s":"n","d":"2011-03","v":0.05},{"s":"n","d":"2011-04","v":0.05},{"s":"n","d":"2011-05","v":0.05},{"s":"n","d":"2011-06","v":0.06},{"s":"n","d":"2011-07","v":0.06},{"s":"n","d":"2011-08","v":0.07},{"s":"n","d":"2011-09","v":0.09},{"s":"n","d":"2011-10","v":0.08},{"s":"n","d":"2011-11","v":0.06},{"s":"n","d":"2011-12","v":0.04},
{"s":"n","d":"2012-01","v":0.035},{"s":"n","d":"2012-02","v":0.04},{"s":"n","d":"2012-03","v":0.045},{"s":"n","d":"2012-04","v":0.05},{"s":"n","d":"2012-05","v":0.055},{"s":"n","d":"2012-06","v":0.06},{"s":"n","d":"2012-07","v":0.06},{"s":"n","d":"2012-08","v":0.055},{"s":"n","d":"2012-09","v":0.05},{"s":"n","d":"2012-10","v":0.05},{"s":"n","d":"2012-11","v":0.045},{"s":"n","d":"2012-12","v":0.04},
{"s":"n","d":"2013-01","v":0.05},{"s":"n","d":"2013-02","v":0.04},{"s":"n","d":"2013-03","v":0.035},{"s":"n","d":"2013-04","v":0.03},{"s":"n","d":"2013-05","v":0.03},{"s":"n","d":"2013-06","v":0.025},
{"s":"c","d":"2008-01","v":0.24},{"s":"c","d":"2008-02","v":0.30},{"s":"c","d":"2008-03","v":0.35},{"s":"c","d":"2008-04","v":0.38},{"s":"c","d":"2008-05","v":0.40},{"s":"c","d":"2008-06","v":0.45},{"s":"c","d":"2008-07","v":0.52},{"s":"c","d":"2008-08","v":0.55},{"s":"c","d":"2008-09","v":0.54},{"s":"c","d":"2008-10","v":0.60},{"s":"c","d":"2008-11","v":0.69},{"s":"c","d":"2008-12","v":0.67},
{"s":"c","d":"2009-01","v":0.62},{"s":"c","d":"2009-02","v":0.58},{"s":"c","d":"2009-03","v":0.55},{"s":"c","d":"2009-04","v":0.53},{"s":"c","d":"2009-05","v":0.52},{"s":"c","d":"2009-06","v":0.53},{"s":"c","d":"2009-07","v":0.50},{"s":"c","d":"2009-08","v":0.47},{"s":"c","d":"2009-09","v":0.42},{"s":"c","d":"2009-10","v":0.34},{"s":"c","d":"2009-11","v":0.23},{"s":"c","d":"2009-12","v":0.22},
{"s":"c","d":"2010-01","v":0.20},{"s":"c","d":"2010-02","v":0.17},{"s":"c","d":"2010-03","v":0.14},{"s":"c","d":"2010-04","v":0.11},{"s":"c","d":"2010-05","v":0.09},{"s":"c","d":"2010-06","v":0.07},{"s":"c","d":"2010-07","v":0.05},{"s":"c","d":"2010-08","v":0.03},{"s":"c","d":"2010-09","v":0.02},{"s":"c","d":"2010-10","v":0.02},{"s":"c","d":"2010-11","v":0.02},{"s":"c","d":"2010-12","v":0.03},
{"s":"c","d":"2011-01","v":0.04},{"s":"c","d":"2011-02","v":0.05},{"s":"c","d":"2011-03","v":0.05},{"s":"c","d":"2011-04","v":0.06},{"s":"c","d":"2011-05","v":0.07},{"s":"c","d":"2011-06","v":0.07},{"s":"c","d":"2011-07","v":0.08},{"s":"c","d":"2011-08","v":0.09},{"s":"c","d":"2011-09","v":0.10},{"s":"c","d":"2011-10","v":0.11},{"s":"c","d":"2011-11","v":0.11},{"s":"c","d":"2011-12","v":0.12},
{"s":"c","d":"2012-01","v":0.09},{"s":"c","d":"2012-02","v":0.10},{"s":"c","d":"2012-03","v":0.13},{"s":"c","d":"2012-04","v":0.15},{"s":"c","d":"2012-05","v":0.16},{"s":"c","d":"2012-06","v":0.17},{"s":"c","d":"2012-07","v":0.18},{"s":"c","d":"2012-08","v":0.21},{"s":"c","d":"2012-09","v":0.19},{"s":"c","d":"2012-10","v":0.17},{"s":"c","d":"2012-11","v":0.15},{"s":"c","d":"2012-12","v":0.10},
{"s":"c","d":"2013-01","v":0.14},{"s":"c","d":"2013-02","v":0.13},{"s":"c","d":"2013-03","v":0.12},{"s":"c","d":"2013-04","v":0.10},{"s":"c","d":"2013-05","v":0.09},{"s":"c","d":"2013-06","v":0.09},
{"s":"g","d":"2008-01","v":0.26},{"s":"g","d":"2008-02","v":0.30},{"s":"g","d":"2008-03","v":0.34},{"s":"g","d":"2008-04","v":0.38},{"s":"g","d":"2008-05","v":0.40},{"s":"g","d":"2008-06","v":0.45},{"s":"g","d":"2008-07","v":0.52},{"s":"g","d":"2008-08","v":0.57},{"s":"g","d":"2008-09","v":0.60},{"s":"g","d":"2008-10","v":0.65},{"s":"g","d":"2008-11","v":0.72},{"s":"g","d":"2008-12","v":0.74},
{"s":"g","d":"2009-01","v":0.75},{"s":"g","d":"2009-02","v":0.70},{"s":"g","d":"2009-03","v":0.66},{"s":"g","d":"2009-04","v":0.62},{"s":"g","d":"2009-05","v":0.60},{"s":"g","d":"2009-06","v":0.56},{"s":"g","d":"2009-07","v":0.50},{"s":"g","d":"2009-08","v":0.44},{"s":"g","d":"2009-09","v":0.37},{"s":"g","d":"2009-10","v":0.31},{"s":"g","d":"2009-11","v":0.27},{"s":"g","d":"2009-12","v":0.24},
{"s":"g","d":"2010-01","v":0.22},{"s":"g","d":"2010-02","v":0.19},{"s":"g","d":"2010-03","v":0.16},{"s":"g","d":"2010-04","v":0.13},{"s":"g","d":"2010-05","v":0.10},{"s":"g","d":"2010-06","v":0.08},{"s":"g","d":"2010-07","v":0.06},{"s":"g","d":"2010-08","v":0.04},{"s":"g","d":"2010-09","v":0.03},{"s":"g","d":"2010-10","v":0.025},{"s":"g","d":"2010-11","v":0.02},{"s":"g","d":"2010-12","v":0.03},
{"s":"g","d":"2011-01","v":0.06},{"s":"g","d":"2011-02","v":0.07},{"s":"g","d":"2011-03","v":0.08},{"s":"g","d":"2011-04","v":0.09},{"s":"g","d":"2011-05","v":0.10},{"s":"g","d":"2011-06","v":0.10},{"s":"g","d":"2011-07","v":0.11},{"s":"g","d":"2011-08","v":0.12},{"s":"g","d":"2011-09","v":0.14},{"s":"g","d":"2011-10","v":0.15},{"s":"g","d":"2011-11","v":0.15},{"s":"g","d":"2011-12","v":0.16},
{"s":"g","d":"2012-01","v":0.12},{"s":"g","d":"2012-02","v":0.14},{"s":"g","d":"2012-03","v":0.16},{"s":"g","d":"2012-04","v":0.17},{"s":"g","d":"2012-05","v":0.18},{"s":"g","d":"2012-06","v":0.19},{"s":"g","d":"2012-07","v":0.20},{"s":"g","d":"2012-08","v":0.23},{"s":"g","d":"2012-09","v":0.21},{"s":"g","d":"2012-10","v":0.19},{"s":"g","d":"2012-11","v":0.17},{"s":"g","d":"2012-12","v":0.13},
{"s":"g","d":"2013-01","v":0.16},{"s":"g","d":"2013-02","v":0.15},{"s":"g","d":"2013-03","v":0.14},{"s":"g","d":"2013-04","v":0.13},{"s":"g","d":"2013-05","v":0.12},{"s":"g","d":"2013-06","v":0.11},
{"s":"i","d":"2008-01","v":0.24},{"s":"i","d":"2008-02","v":0.30},{"s":"i","d":"2008-03","v":0.34},{"s":"i","d":"2008-04","v":0.38},{"s":"i","d":"2008-05","v":0.41},{"s":"i","d":"2008-06","v":0.47},{"s":"i","d":"2008-07","v":0.53},{"s":"i","d":"2008-08","v":0.60},{"s":"i","d":"2008-09","v":0.62},{"s":"i","d":"2008-10","v":0.66},{"s":"i","d":"2008-11","v":0.74},{"s":"i","d":"2008-12","v":0.80},
{"s":"i","d":"2009-01","v":0.81},{"s":"i","d":"2009-02","v":0.78},{"s":"i","d":"2009-03","v":0.70},{"s":"i","d":"2009-04","v":0.64},{"s":"i","d":"2009-05","v":0.66},{"s":"i","d":"2009-06","v":0.63},{"s":"i","d":"2009-07","v":0.57},{"s":"i","d":"2009-08","v":0.50},{"s":"i","d":"2009-09","v":0.43},{"s":"i","d":"2009-10","v":0.34},{"s":"i","d":"2009-11","v":0.28},{"s":"i","d":"2009-12","v":0.25},
{"s":"i","d":"2010-01","v":0.23},{"s":"i","d":"2010-02","v":0.20},{"s":"i","d":"2010-03","v":0.17},{"s":"i","d":"2010-04","v":0.14},{"s":"i","d":"2010-05","v":0.11},{"s":"i","d":"2010-06","v":0.08},{"s":"i","d":"2010-07","v":0.06},{"s":"i","d":"2010-08","v":0.04},{"s":"i","d":"2010-09","v":0.03},{"s":"i","d":"2010-10","v":0.025},{"s":"i","d":"2010-11","v":0.02},{"s":"i","d":"2010-12","v":0.03},
{"s":"i","d":"2011-01","v":0.07},{"s":"i","d":"2011-02","v":0.08},{"s":"i","d":"2011-03","v":0.09},{"s":"i","d":"2011-04","v":0.10},{"s":"i","d":"2011-05","v":0.10},{"s":"i","d":"2011-06","v":0.11},{"s":"i","d":"2011-07","v":0.12},{"s":"i","d":"2011-08","v":0.13},{"s":"i","d":"2011-09","v":0.15},{"s":"i","d":"2011-10","v":0.16},{"s":"i","d":"2011-11","v":0.16},{"s":"i","d":"2011-12","v":0.16},
{"s":"i","d":"2012-01","v":0.12},{"s":"i","d":"2012-02","v":0.14},{"s":"i","d":"2012-03","v":0.16},{"s":"i","d":"2012-04","v":0.17},{"s":"i","d":"2012-05","v":0.18},{"s":"i","d":"2012-06","v":0.19},{"s":"i","d":"2012-07","v":0.20},{"s":"i","d":"2012-08","v":0.22},{"s":"i","d":"2012-09","v":0.20},{"s":"i","d":"2012-10","v":0.18},{"s":"i","d":"2012-11","v":0.16},{"s":"i","d":"2012-12","v":0.12},
{"s":"i","d":"2013-01","v":0.15},{"s":"i","d":"2013-02","v":0.14},{"s":"i","d":"2013-03","v":0.13},{"s":"i","d":"2013-04","v":0.12},{"s":"i","d":"2013-05","v":0.11},{"s":"i","d":"2013-06","v":0.10},
{"s":"d","d":"2008-01","v":0.25},{"s":"d","d":"2008-02","v":0.31},{"s":"d","d":"2008-03","v":0.35},{"s":"d","d":"2008-04","v":0.39},{"s":"d","d":"2008-05","v":0.41},{"s":"d","d":"2008-06","v":0.47},{"s":"d","d":"2008-07","v":0.54},{"s":"d","d":"2008-08","v":0.58},{"s":"d","d":"2008-09","v":0.61},{"s":"d","d":"2008-10","v":0.68},{"s":"d","d":"2008-11","v":0.76},{"s":"d","d":"2008-12","v":0.79},
{"s":"d","d":"2009-01","v":0.80},{"s":"d","d":"2009-02","v":0.76},{"s":"d","d":"2009-03","v":0.72},{"s":"d","d":"2009-04","v":0.70},{"s":"d","d":"2009-05","v":0.71},{"s":"d","d":"2009-06","v":0.68},{"s":"d","d":"2009-07","v":0.63},{"s":"d","d":"2009-08","v":0.58},{"s":"d","d":"2009-09","v":0.53},{"s":"d","d":"2009-10","v":0.48},{"s":"d","d":"2009-11","v":0.42},{"s":"d","d":"2009-12","v":0.35},
{"s":"d","d":"2010-01","v":0.28},{"s":"d","d":"2010-02","v":0.22},{"s":"d","d":"2010-03","v":0.18},{"s":"d","d":"2010-04","v":0.14},{"s":"d","d":"2010-05","v":0.11},{"s":"d","d":"2010-06","v":0.08},{"s":"d","d":"2010-07","v":0.06},{"s":"d","d":"2010-08","v":0.04},{"s":"d","d":"2010-09","v":0.03},{"s":"d","d":"2010-10","v":0.025},{"s":"d","d":"2010-11","v":0.02},{"s":"d","d":"2010-12","v":0.03},
{"s":"d","d":"2011-01","v":0.05},{"s":"d","d":"2011-02","v":0.06},{"s":"d","d":"2011-03","v":0.07},{"s":"d","d":"2011-04","v":0.08},{"s":"d","d":"2011-05","v":0.09},{"s":"d","d":"2011-06","v":0.09},{"s":"d","d":"2011-07","v":0.10},{"s":"d","d":"2011-08","v":0.11},{"s":"d","d":"2011-09","v":0.13},{"s":"d","d":"2011-10","v":0.14},{"s":"d","d":"2011-11","v":0.14},{"s":"d","d":"2011-12","v":0.15},
{"s":"d","d":"2012-01","v":0.12},{"s":"d","d":"2012-02","v":0.13},{"s":"d","d":"2012-03","v":0.15},{"s":"d","d":"2012-04","v":0.16},{"s":"d","d":"2012-05","v":0.17},{"s":"d","d":"2012-06","v":0.18},{"s":"d","d":"2012-07","v":0.19},{"s":"d","d":"2012-08","v":0.22},{"s":"d","d":"2012-09","v":0.20},{"s":"d","d":"2012-10","v":0.18},{"s":"d","d":"2012-11","v":0.16},{"s":"d","d":"2012-12","v":0.12},
{"s":"d","d":"2013-01","v":0.15},{"s":"d","d":"2013-02","v":0.14},{"s":"d","d":"2013-03","v":0.13},{"s":"d","d":"2013-04","v":0.11},{"s":"d","d":"2013-05","v":0.10},{"s":"d","d":"2013-06","v":0.09},
{"s":"e","d":"2008-01","v":0.27},{"s":"e","d":"2008-02","v":0.32},{"s":"e","d":"2008-03","v":0.37},{"s":"e","d":"2008-04","v":0.41},{"s":"e","d":"2008-05","v":0.43},{"s":"e","d":"2008-06","v":0.49},{"s":"e","d":"2008-07","v":0.56},{"s":"e","d":"2008-08","v":0.61},{"s":"e","d":"2008-09","v":0.64},{"s":"e","d":"2008-10","v":0.71},{"s":"e","d":"2008-11","v":0.79},{"s":"e","d":"2008-12","v":0.84},
{"s":"e","d":"2009-01","v":0.86},{"s":"e","d":"2009-02","v":0.80},{"s":"e","d":"2009-03","v":0.74},{"s":"e","d":"2009-04","v":0.72},{"s":"e","d":"2009-05","v":0.77},{"s":"e","d":"2009-06","v":0.71},{"s":"e","d":"2009-07","v":0.65},{"s":"e","d":"2009-08","v":0.60},{"s":"e","d":"2009-09","v":0.56},{"s":"e","d":"2009-10","v":0.51},{"s":"e","d":"2009-11","v":0.45},{"s":"e","d":"2009-12","v":0.37},
{"s":"e","d":"2010-01","v":0.30},{"s":"e","d":"2010-02","v":0.25},{"s":"e","d":"2010-03","v":0.20},{"s":"e","d":"2010-04","v":0.16},{"s":"e","d":"2010-05","v":0.12},{"s":"e","d":"2010-06","v":0.09},{"s":"e","d":"2010-07","v":0.07},{"s":"e","d":"2010-08","v":0.05},{"s":"e","d":"2010-09","v":0.04},{"s":"e","d":"2010-10","v":0.03},{"s":"e","d":"2010-11","v":0.02},{"s":"e","d":"2010-12","v":0.035},
{"s":"e","d":"2011-01","v":0.07},{"s":"e","d":"2011-02","v":0.08},{"s":"e","d":"2011-03","v":0.08},{"s":"e","d":"2011-04","v":0.09},{"s":"e","d":"2011-05","v":0.09},{"s":"e","d":"2011-06","v":0.10},{"s":"e","d":"2011-07","v":0.10},{"s":"e","d":"2011-08","v":0.11},{"s":"e","d":"2011-09","v":0.14},{"s":"e","d":"2011-10","v":0.15},{"s":"e","d":"2011-11","v":0.15},{"s":"e","d":"2011-12","v":0.16},
{"s":"e","d":"2012-01","v":0.12},{"s":"e","d":"2012-02","v":0.13},{"s":"e","d":"2012-03","v":0.15},{"s":"e","d":"2012-04","v":0.16},{"s":"e","d":"2012-05","v":0.17},{"s":"e","d":"2012-06","v":0.18},{"s":"e","d":"2012-07","v":0.20},{"s":"e","d":"2012-08","v":0.22},{"s":"e","d":"2012-09","v":0.20},{"s":"e","d":"2012-10","v":0.18},{"s":"e","d":"2012-11","v":0.16},{"s":"e","d":"2012-12","v":0.11},
{"s":"e","d":"2013-01","v":0.13},{"s":"e","d":"2013-02","v":0.12},{"s":"e","d":"2013-03","v":0.11},{"s":"e","d":"2013-04","v":0.10},{"s":"e","d":"2013-05","v":0.08},{"s":"e","d":"2013-06","v":0.07},
{"s":"a","d":"2008-01","v":0.28},{"s":"a","d":"2008-02","v":0.33},{"s":"a","d":"2008-03","v":0.37},{"s":"a","d":"2008-04","v":0.42},{"s":"a","d":"2008-05","v":0.43},{"s":"a","d":"2008-06","v":0.50},{"s":"a","d":"2008-07","v":0.57},{"s":"a","d":"2008-08","v":0.62},{"s":"a","d":"2008-09","v":0.64},{"s":"a","d":"2008-10","v":0.72},{"s":"a","d":"2008-11","v":0.80},{"s":"a","d":"2008-12","v":0.85},
{"s":"a","d":"2009-01","v":0.87},{"s":"a","d":"2009-02","v":0.82},{"s":"a","d":"2009-03","v":0.76},{"s":"a","d":"2009-04","v":0.74},{"s":"a","d":"2009-05","v":0.77},{"s":"a","d":"2009-06","v":0.72},{"s":"a","d":"2009-07","v":0.66},{"s":"a","d":"2009-08","v":0.61},{"s":"a","d":"2009-09","v":0.55},{"s":"a","d":"2009-10","v":0.50},{"s":"a","d":"2009-11","v":0.44},{"s":"a","d":"2009-12","v":0.37},
{"s":"a","d":"2010-01","v":0.30},{"s":"a","d":"2010-02","v":0.25},{"s":"a","d":"2010-03","v":0.20},{"s":"a","d":"2010-04","v":0.16},{"s":"a","d":"2010-05","v":0.12},{"s":"a","d":"2010-06","v":0.10},{"s":"a","d":"2010-07","v":0.07},{"s":"a","d":"2010-08","v":0.05},{"s":"a","d":"2010-09","v":0.04},{"s":"a","d":"2010-10","v":0.03},{"s":"a","d":"2010-11","v":0.025},{"s":"a","d":"2010-12","v":0.04},
{"s":"a","d":"2011-01","v":0.08},{"s":"a","d":"2011-02","v":0.09},{"s":"a","d":"2011-03","v":0.10},{"s":"a","d":"2011-04","v":0.10},{"s":"a","d":"2011-05","v":0.11},{"s":"a","d":"2011-06","v":0.11},{"s":"a","d":"2011-07","v":0.12},{"s":"a","d":"2011-08","v":0.14},{"s":"a","d":"2011-09","v":0.16},{"s":"a","d":"2011-10","v":0.18},{"s":"a","d":"2011-11","v":0.17},{"s":"a","d":"2011-12","v":0.18},
{"s":"a","d":"2012-01","v":0.14},{"s":"a","d":"2012-02","v":0.15},{"s":"a","d":"2012-03","v":0.17},{"s":"a","d":"2012-04","v":0.18},{"s":"a","d":"2012-05","v":0.18},{"s":"a","d":"2012-06","v":0.19},{"s":"a","d":"2012-07","v":0.21},{"s":"a","d":"2012-08","v":0.24},{"s":"a","d":"2012-09","v":0.21},{"s":"a","d":"2012-10","v":0.19},{"s":"a","d":"2012-11","v":0.17},{"s":"a","d":"2012-12","v":0.13},
{"s":"a","d":"2013-01","v":0.17},{"s":"a","d":"2013-02","v":0.16},{"s":"a","d":"2013-03","v":0.15},{"s":"a","d":"2013-04","v":0.14},{"s":"a","d":"2013-05","v":0.13},{"s":"a","d":"2013-06","v":0.12},
{"s":"h","d":"2008-01","v":0.30},{"s":"h","d":"2008-02","v":0.36},{"s":"h","d":"2008-03","v":0.40},{"s":"h","d":"2008-04","v":0.43},{"s":"h","d":"2008-05","v":0.45},{"s":"h","d":"2008-06","v":0.55},{"s":"h","d":"2008-07","v":0.62},{"s":"h","d":"2008-08","v":0.70},{"s":"h","d":"2008-09","v":0.72},{"s":"h","d":"2008-10","v":0.74},{"s":"h","d":"2008-11","v":0.80},{"s":"h","d":"2008-12","v":0.84},
{"s":"h","d":"2009-01","v":0.88},{"s":"h","d":"2009-02","v":0.82},{"s":"h","d":"2009-03","v":0.76},{"s":"h","d":"2009-04","v":0.72},{"s":"h","d":"2009-05","v":0.75},{"s":"h","d":"2009-06","v":0.70},{"s":"h","d":"2009-07","v":0.64},{"s":"h","d":"2009-08","v":0.58},{"s":"h","d":"2009-09","v":0.52},{"s":"h","d":"2009-10","v":0.45},{"s":"h","d":"2009-11","v":0.38},{"s":"h","d":"2009-12","v":0.30},
{"s":"h","d":"2010-01","v":0.24},{"s":"h","d":"2010-02","v":0.19},{"s":"h","d":"2010-03","v":0.15},{"s":"h","d":"2010-04","v":0.12},{"s":"h","d":"2010-05","v":0.10},{"s":"h","d":"2010-06","v":0.07},{"s":"h","d":"2010-07","v":0.05},{"s":"h","d":"2010-08","v":0.03},{"s":"h","d":"2010-09","v":0.02},{"s":"h","d":"2010-10","v":0.02},{"s":"h","d":"2010-11","v":0.02},{"s":"h","d":"2010-12","v":0.03},
{"s":"h","d":"2011-01","v":0.05},{"s":"h","d":"2011-02","v":0.06},{"s":"h","d":"2011-03","v":0.07},{"s":"h","d":"2011-04","v":0.08},{"s":"h","d":"2011-05","v":0.08},{"s":"h","d":"2011-06","v":0.09},{"s":"h","d":"2011-07","v":0.10},{"s":"h","d":"2011-08","v":0.11},{"s":"h","d":"2011-09","v":0.13},{"s":"h","d":"2011-10","v":0.14},{"s":"h","d":"2011-11","v":0.14},{"s":"h","d":"2011-12","v":0.15},
{"s":"h","d":"2012-01","v":0.12},{"s":"h","d":"2012-02","v":0.13},{"s":"h","d":"2012-03","v":0.15},{"s":"h","d":"2012-04","v":0.17},{"s":"h","d":"2012-05","v":0.18},{"s":"h","d":"2012-06","v":0.19},{"s":"h","d":"2012-07","v":0.20},{"s":"h","d":"2012-08","v":0.22},{"s":"h","d":"2012-09","v":0.20},{"s":"h","d":"2012-10","v":0.18},{"s":"h","d":"2012-11","v":0.15},{"s":"h","d":"2012-12","v":0.11},
{"s":"h","d":"2013-01","v":0.13},{"s":"h","d":"2013-02","v":0.12},{"s":"h","d":"2013-03","v":0.11},{"s":"h","d":"2013-04","v":0.10},{"s":"h","d":"2013-05","v":0.09},{"s":"h","d":"2013-06","v":0.08},
{"s":"j","d":"2008-01","v":0.18},{"s":"j","d":"2008-02","v":0.24},{"s":"j","d":"2008-03","v":0.28},{"s":"j","d":"2008-04","v":0.33},{"s":"j","d":"2008-05","v":0.36},{"s":"j","d":"2008-06","v":0.44},{"s":"j","d":"2008-07","v":0.52},{"s":"j","d":"2008-08","v":0.58},{"s":"j","d":"2008-09","v":0.62},{"s":"j","d":"2008-10","v":0.70},{"s":"j","d":"2008-11","v":0.80},{"s":"j","d":"2008-12","v":0.86},
{"s":"j","d":"2009-01","v":0.88},{"s":"j","d":"2009-02","v":0.82},{"s":"j","d":"2009-03","v":0.76},{"s":"j","d":"2009-04","v":0.73},{"s":"j","d":"2009-05","v":0.74},{"s":"j","d":"2009-06","v":0.68},{"s":"j","d":"2009-07","v":0.60},{"s":"j","d":"2009-08","v":0.52},{"s":"j","d":"2009-09","v":0.43},{"s":"j","d":"2009-10","v":0.34},{"s":"j","d":"2009-11","v":0.25},{"s":"j","d":"2009-12","v":0.20},
{"s":"j","d":"2010-01","v":0.15},{"s":"j","d":"2010-02","v":0.12},{"s":"j","d":"2010-03","v":0.09},{"s":"j","d":"2010-04","v":0.07},{"s":"j","d":"2010-05","v":0.05},{"s":"j","d":"2010-06","v":0.03},{"s":"j","d":"2010-07","v":0.015},{"s":"j","d":"2010-08","v":0.01},{"s":"j","d":"2010-09","v":0.01},{"s":"j","d":"2010-10","v":0.01},{"s":"j","d":"2010-11","v":0.01},{"s":"j","d":"2010-12","v":0.015},
{"s":"j","d":"2011-01","v":0.015},{"s":"j","d":"2011-02","v":0.015},{"s":"j","d":"2011-03","v":0.02},{"s":"j","d":"2011-04","v":0.02},{"s":"j","d":"2011-05","v":0.02},{"s":"j","d":"2011-06","v":0.02},{"s":"j","d":"2011-07","v":0.02},{"s":"j","d":"2011-08","v":0.03},{"s":"j","d":"2011-09","v":0.03},{"s":"j","d":"2011-10","v":0.04},{"s":"j","d":"2011-11","v":0.05},{"s":"j","d":"2011-12","v":0.057},
{"s":"j","d":"2012-01","v":0.035},{"s":"j","d":"2012-02","v":0.04},{"s":"j","d":"2012-03","v":0.04},{"s":"j","d":"2012-04","v":0.04},{"s":"j","d":"2012-05","v":0.04},{"s":"j","d":"2012-06","v":0.04},{"s":"j","d":"2012-07","v":0.04},{"s":"j","d":"2012-08","v":0.04},{"s":"j","d":"2012-09","v":0.035},{"s":"j","d":"2012-10","v":0.03},{"s":"j","d":"2012-11","v":0.02},{"s":"j","d":"2012-12","v":0.005},
{"s":"j","d":"2013-01","v":0},{"s":"j","d":"2013-02","v":0},{"s":"j","d":"2013-03","v":0},{"s":"j","d":"2013-04","v":0},{"s":"j","d":"2013-05","v":0},{"s":"j","d":"2013-06","v":0},
{"s":"k","d":"2008-01","v":0.22},{"s":"k","d":"2008-02","v":0.27},{"s":"k","d":"2008-03","v":0.33},{"s":"k","d":"2008-04","v":0.36},{"s":"k","d":"2008-05","v":0.38},{"s":"k","d":"2008-06","v":0.45},{"s":"k","d":"2008-07","v":0.52},{"s":"k","d":"2008-08","v":0.58},{"s":"k","d":"2008-09","v":0.65},{"s":"k","d":"2008-10","v":0.76},{"s":"k","d":"2008-11","v":0.88},{"s":"k","d":"2008-12","v":0.93},
{"s":"k","d":"2009-01","v":0.97},{"s":"k","d":"2009-02","v":0.93},{"s":"k","d":"2009-03","v":0.92},{"s":"k","d":"2009-04","v":0.87},{"s":"k","d":"2009-05","v":0.91},{"s":"k","d":"2009-06","v":0.88},{"s":"k","d":"2009-07","v":0.80},{"s":"k","d":"2009-08","v":0.72},{"s":"k","d":"2009-09","v":0.62},{"s":"k","d":"2009-10","v":0.53},{"s":"k","d":"2009-11","v":0.44},{"s":"k","d":"2009-12","v":0.38},
{"s":"k","d":"2010-01","v":0.33},{"s":"k","d":"2010-02","v":0.27},{"s":"k","d":"2010-03","v":0.22},{"s":"k","d":"2010-04","v":0.18},{"s":"k","d":"2010-05","v":0.14},{"s":"k","d":"2010-06","v":0.11},{"s":"k","d":"2010-07","v":0.08},{"s":"k","d":"2010-08","v":0.05},{"s":"k","d":"2010-09","v":0.03},{"s":"k","d":"2010-10","v":0.02},{"s":"k","d":"2010-11","v":0.02},{"s":"k","d":"2010-12","v":0.03},
{"s":"k","d":"2011-01","v":0.05},{"s":"k","d":"2011-02","v":0.06},{"s":"k","d":"2011-03","v":0.07},{"s":"k","d":"2011-04","v":0.07},{"s":"k","d":"2011-05","v":0.08},{"s":"k","d":"2011-06","v":0.08},{"s":"k","d":"2011-07","v":0.09},{"s":"k","d":"2011-08","v":0.10},{"s":"k","d":"2011-09","v":0.12},{"s":"k","d":"2011-10","v":0.13},{"s":"k","d":"2011-11","v":0.13},{"s":"k","d":"2011-12","v":0.14},
{"s":"k","d":"2012-01","v":0.11},{"s":"k","d":"2012-02","v":0.12},{"s":"k","d":"2012-03","v":0.14},{"s":"k","d":"2012-04","v":0.15},{"s":"k","d":"2012-05","v":0.16},{"s":"k","d":"2012-06","v":0.17},{"s":"k","d":"2012-07","v":0.18},{"s":"k","d":"2012-08","v":0.21},{"s":"k","d":"2012-09","v":0.19},{"s":"k","d":"2012-10","v":0.16},{"s":"k","d":"2012-11","v":0.13},{"s":"k","d":"2012-12","v":0.08},
{"s":"k","d":"2013-01","v":0.10},{"s":"k","d":"2013-02","v":0.09},{"s":"k","d":"2013-03","v":0.08},{"s":"k","d":"2013-04","v":0.07},{"s":"k","d":"2013-05","v":0.06},{"s":"k","d":"2013-06","v":0.05},
{"s":"l","d":"2008-01","v":0.19},{"s":"l","d":"2008-02","v":0.25},{"s":"l","d":"2008-03","v":0.26},{"s":"l","d":"2008-04","v":0.31},{"s":"l","d":"2008-05","v":0.34},{"s":"l","d":"2008-06","v":0.40},{"s":"l","d":"2008-07","v":0.48},{"s":"l","d":"2008-08","v":0.56},{"s":"l","d":"2008-09","v":0.64},{"s":"l","d":"2008-10","v":0.75},{"s":"l","d":"2008-11","v":0.87},{"s":"l","d":"2008-12","v":0.93},
{"s":"l","d":"2009-01","v":0.96},{"s":"l","d":"2009-02","v":0.92},{"s":"l","d":"2009-03","v":0.91},{"s":"l","d":"2009-04","v":0.86},{"s":"l","d":"2009-05","v":0.89},{"s":"l","d":"2009-06","v":0.86},{"s":"l","d":"2009-07","v":0.79},{"s":"l","d":"2009-08","v":0.72},{"s":"l","d":"2009-09","v":0.63},{"s":"l","d":"2009-10","v":0.55},{"s":"l","d":"2009-11","v":0.46},{"s":"l","d":"2009-12","v":0.40},
{"s":"l","d":"2010-01","v":0.34},{"s":"l","d":"2010-02","v":0.28},{"s":"l","d":"2010-03","v":0.23},{"s":"l","d":"2010-04","v":0.18},{"s":"l","d":"2010-05","v":0.14},{"s":"l","d":"2010-06","v":0.10},{"s":"l","d":"2010-07","v":0.07},{"s":"l","d":"2010-08","v":0.05},{"s":"l","d":"2010-09","v":0.03},{"s":"l","d":"2010-10","v":0.02},{"s":"l","d":"2010-11","v":0.02},{"s":"l","d":"2010-12","v":0.03},
{"s":"l","d":"2011-01","v":0.06},{"s":"l","d":"2011-02","v":0.07},{"s":"l","d":"2011-03","v":0.07},{"s":"l","d":"2011-04","v":0.08},{"s":"l","d":"2011-05","v":0.08},{"s":"l","d":"2011-06","v":0.09},{"s":"l","d":"2011-07","v":0.10},{"s":"l","d":"2011-08","v":0.11},{"s":"l","d":"2011-09","v":0.13},{"s":"l","d":"2011-10","v":0.14},{"s":"l","d":"2011-11","v":0.15},{"s":"l","d":"2011-12","v":0.15},
{"s":"l","d":"2012-01","v":0.11},{"s":"l","d":"2012-02","v":0.13},{"s":"l","d":"2012-03","v":0.15},{"s":"l","d":"2012-04","v":0.16},{"s":"l","d":"2012-05","v":0.17},{"s":"l","d":"2012-06","v":0.18},{"s":"l","d":"2012-07","v":0.19},{"s":"l","d":"2012-08","v":0.20},{"s":"l","d":"2012-09","v":0.18},{"s":"l","d":"2012-10","v":0.15},{"s":"l","d":"2012-11","v":0.12},{"s":"l","d":"2012-12","v":0.08},
{"s":"l","d":"2013-01","v":0.11},{"s":"l","d":"2013-02","v":0.10},{"s":"l","d":"2013-03","v":0.08},{"s":"l","d":"2013-04","v":0.06},{"s":"l","d":"2013-05","v":0.04},{"s":"l","d":"2013-06","v":0.03}
]
},
"vconcat":[
{
"width":610,"height":445,
"title":{"text":"Toxicity Index","offset":-56,"frame":"group","anchor":"middle","font":"DejaVu Serif","fontSize":16.5,"fontWeight":"bold","color":"#231f20","baseline":"alphabetic"},
"resolve":{"axis":{"x":"independent","y":"independent"}},
"layer":[
{"data":{"name":"tox"},"mark":{"type":"line","strokeWidth":2.6},
"encoding":{
"x":{"field":"d","type":"temporal","title":null,
"scale":{"type":"utc","domain":[{"year":2008,"month":1,"date":1,"utc":true},{"year":2013,"month":6,"date":1,"utc":true}],"range":[45,594]},
"axis":{"offset":-76,"labelAngle":-90,"labelOverlap":false,"labelBound":false,"labelExpr":"utcFormat(datum.value, '%b-%y')",
"values":[{"year":2008,"month":1,"date":1,"utc":true},{"year":2008,"month":5,"date":1,"utc":true},{"year":2008,"month":9,"date":1,"utc":true},{"year":2009,"month":1,"date":1,"utc":true},{"year":2009,"month":5,"date":1,"utc":true},{"year":2009,"month":9,"date":1,"utc":true},{"year":2010,"month":1,"date":1,"utc":true},{"year":2010,"month":5,"date":1,"utc":true},{"year":2010,"month":9,"date":1,"utc":true},{"year":2011,"month":1,"date":1,"utc":true},{"year":2011,"month":5,"date":1,"utc":true},{"year":2011,"month":9,"date":1,"utc":true},{"year":2012,"month":1,"date":1,"utc":true},{"year":2012,"month":5,"date":1,"utc":true},{"year":2012,"month":9,"date":1,"utc":true},{"year":2013,"month":1,"date":1,"utc":true},{"year":2013,"month":6,"date":1,"utc":true}]}},
"y":{"field":"v","type":"quantitative","title":null,
"scale":{"domain":[0,1],"range":[369,37],"nice":false,"zero":false},
"axis":{"offset":-45,"format":".1f","labelOverlap":false,"values":[0,0.1,0.2,0.3,0.4,0.5,0.6,0.7,0.8,0.9,1.0]}},
"color":{"field":"s","type":"nominal","legend":null,"sort":null,
"scale":{"domain":["a","b","c","d","e","f","g","h","i","j","k","l","m","n"],"range":["#1f6aa5","#2b8ccc","#19b5cb","#26a3bf","#d6363a","#e34e43","#f28a30","#8a5fa8","#8fbb3c","#f1b2ae","#a6c3de","#c8dba7","#f7a24e","#9b74b8"]}}
}},
{"data":{"values":[{}]},"mark":{"type":"rule","color":"#3a3a3a","strokeWidth":1.5},
"encoding":{
"x":{"datum":{"year":2007,"month":6,"date":6,"utc":true},"type":"temporal","axis":null},
"y":{"datum":1.1506,"type":"quantitative","axis":null},
"y2":{"datum":-1.64}}},
{"data":{"values":[{}]},"mark":{"type":"rule","color":"#3a3a3a","strokeWidth":1.5},
"encoding":{
"x":{"datum":{"year":2007,"month":6,"date":6,"utc":true},"type":"temporal","axis":null},
"x2":{"datum":{"year":2013,"month":7,"date":31,"utc":true}},
"y":{"datum":1.1506,"type":"quantitative","axis":null}}}
]
},
{
"width":610,"height":444,
"title":{"text":"Vulnerability Index","offset":-43,"frame":"group","anchor":"middle","font":"DejaVu Serif","fontSize":16.5,"fontWeight":"bold","color":"#231f20","baseline":"alphabetic"},
"data":{"name":"vul"},
"mark":{"type":"line","strokeWidth":2.6},
"encoding":{
"x":{"field":"d","type":"temporal","title":null,
"scale":{"type":"utc","domain":[{"year":2008,"month":1,"date":1,"utc":true},{"year":2013,"month":6,"date":1,"utc":true}],"range":[48,594]},
"axis":{"offset":-75,"labelAngle":-90,"labelOverlap":false,"labelBound":false,"labelExpr":"utcFormat(datum.value, '%b-%y')",
"values":[{"year":2008,"month":1,"date":1,"utc":true},{"year":2008,"month":5,"date":1,"utc":true},{"year":2008,"month":9,"date":1,"utc":true},{"year":2009,"month":1,"date":1,"utc":true},{"year":2009,"month":5,"date":1,"utc":true},{"year":2009,"month":9,"date":1,"utc":true},{"year":2010,"month":1,"date":1,"utc":true},{"year":2010,"month":5,"date":1,"utc":true},{"year":2010,"month":9,"date":1,"utc":true},{"year":2011,"month":1,"date":1,"utc":true},{"year":2011,"month":5,"date":1,"utc":true},{"year":2011,"month":9,"date":1,"utc":true},{"year":2012,"month":1,"date":1,"utc":true},{"year":2012,"month":5,"date":1,"utc":true},{"year":2012,"month":9,"date":1,"utc":true},{"year":2013,"month":1,"date":1,"utc":true},{"year":2013,"month":6,"date":1,"utc":true}]}},
"y":{"field":"v","type":"quantitative","title":null,
"scale":{"domain":[0,1],"range":[369,36],"nice":false,"zero":false},
"axis":{"offset":-48,"format":".1f","labelOverlap":false,"values":[0,0.2,0.4,0.6,0.8,1.0]}},
"color":{"field":"s","type":"nominal","legend":null,"sort":null,
"scale":{"domain":["a","b","c","d","e","f","g","h","i","j","k","l","m","n"],"range":["#1f6aa5","#2b8ccc","#19b5cb","#26a3bf","#d6363a","#e34e43","#f28a30","#8a5fa8","#8fbb3c","#f1b2ae","#a6c3de","#c8dba7","#f7a24e","#9b74b8"]}}
}
}
]
}
